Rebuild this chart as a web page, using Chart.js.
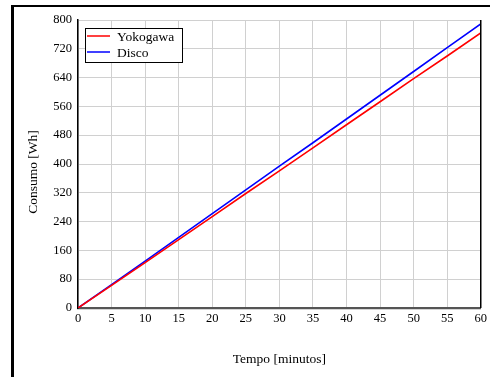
<!DOCTYPE html>
<html>
<head>
<meta charset="utf-8">
<script src="https://cdn.jsdelivr.net/npm/chart.js@4/dist/chart.umd.min.js"></script>
<style>
  html, body { margin: 0; padding: 0; background: #fff; }
  #wrap { position: relative; width: 490px; height: 377px; overflow: hidden; }
  #frame { position: absolute; left: 11px; top: 5px; width: 479px; height: 372px;
           border-top: 2.5px solid #000; border-left: 3px solid #000; box-sizing: border-box; }
  canvas { position: absolute; left: 0; top: 0; }
</style>
</head>
<body>
<div id="wrap">
  <div id="frame"></div>
  <canvas id="c" width="490" height="377"></canvas>
</div>
<script>
const minutes   = [0, 5, 10, 15, 20, 25, 30, 35, 40, 45, 50, 55, 60];
const yokogawa  = [0, 63, 126, 190, 254, 318, 381, 445, 509, 573, 637, 700, 764];
const disco     = [0, 65, 130, 196, 262, 328, 394, 459, 525, 591, 657, 723, 789];
const seriesNames = ['Yokogawa', 'Disco'];
const seriesColors = ['#ff0000', '#0000ff'];
const xTitle = 'Tempo [minutos]';
const yTitle = 'Consumo [Wh]';

const FONT = '"Liberation Serif", "Times New Roman", serif';

const toPts = (vals) => minutes.map((m, i) => ({ x: m, y: vals[i] }));

const boxLegend = {
  id: 'boxLegend',
  afterDraw(chart) {
    const ctx = chart.ctx;
    const ca = chart.chartArea;
    ctx.save();
    // right border of plot
    ctx.strokeStyle = '#000';
    ctx.lineWidth = 1.5;
    ctx.beginPath();
    ctx.moveTo(ca.right, ca.top);
    ctx.lineTo(ca.right, ca.bottom);
    ctx.stroke();
    // y axis title
    ctx.save();
    ctx.translate(33, 172);
    ctx.rotate(-Math.PI / 2);
    ctx.font = '13.5px ' + FONT;
    ctx.fillStyle = '#000';
    ctx.textAlign = 'center';
    ctx.textBaseline = 'middle';
    ctx.fillText(yTitle, 0, 0);
    ctx.restore();
    // legend box
    const x0 = ca.left + 7, y0 = ca.top + 8, w = 97, h = 34;
    ctx.fillStyle = '#fff';
    ctx.fillRect(x0, y0, w, h);
    ctx.strokeStyle = '#000';
    ctx.lineWidth = 1;
    ctx.strokeRect(x0 + 0.5, y0 + 0.5, w, h);
    ctx.font = '13.5px ' + FONT;
    ctx.textBaseline = 'middle';
    chart.data.datasets.forEach((ds, i) => {
      const yy = y0 + 8 + i * 16;
      ctx.strokeStyle = ds.borderColor;
      ctx.lineWidth = 1.5;
      ctx.beginPath();
      ctx.moveTo(x0 + 2, yy);
      ctx.lineTo(x0 + 25, yy);
      ctx.stroke();
      ctx.fillStyle = '#000';
      ctx.fillText(ds.label, x0 + 32, yy + 1);
    });
    ctx.restore();
  }
};

new Chart(document.getElementById('c'), {
  type: 'line',
  data: {
    datasets: [
      { label: seriesNames[0], data: toPts(yokogawa), borderColor: seriesColors[0], borderWidth: 1.6, pointRadius: 0, tension: 0, fill: false },
      { label: seriesNames[1], data: toPts(disco), borderColor: seriesColors[1], borderWidth: 1.6, pointRadius: 0, tension: 0, fill: false }
    ]
  },
  options: {
    responsive: false,
    animation: false,
    devicePixelRatio: 1,
    layout: { padding: { top: 20, right: 8, left: 0, bottom: 0 } },
    plugins: { legend: { display: false }, tooltip: { enabled: false } },
    scales: {
      x: {
        type: 'linear', min: 0, max: 60,
        afterFit(s) { s.height = 69; },
        ticks: { stepSize: 5, color: '#000', padding: 3, font: { family: FONT, size: 12.5 }, maxRotation: 0 },
        grid: { color: '#d0d0d0', lineWidth: 1, drawTicks: false },
        border: { color: '#555', width: 2.2 },
        title: { display: true, text: xTitle, color: '#000', font: { family: FONT, size: 13.5 }, padding: { top: 0, bottom: 9 } }
      },
      y: {
        min: 0, max: 800,
        afterFit(s) { s.width = 78; },
        ticks: { stepSize: 80, color: '#000', padding: 6, font: { family: FONT, size: 12.5 } },
        grid: { color: '#d0d0d0', lineWidth: 1, drawTicks: false },
        border: { color: '#000', width: 1.5 },
        title: { display: false }
      }
    }
  },
  plugins: [boxLegend]
});
</script>
</body>
</html>
